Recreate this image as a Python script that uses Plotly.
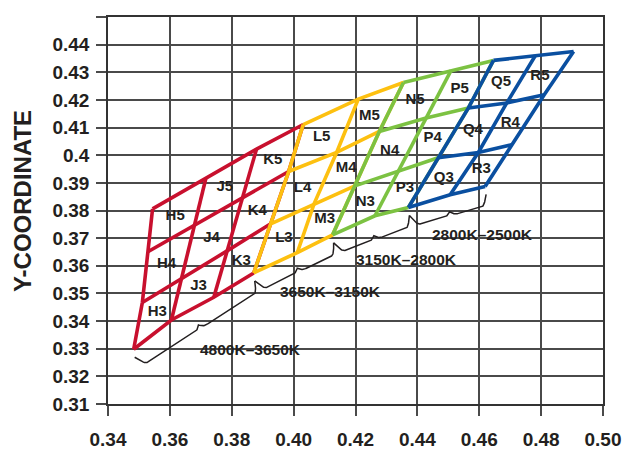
import math
import plotly.graph_objects as go

# ---------------- data ----------------
# Bin boundary lines, each with 4 vertices from the bottom boundary
# (bottom of row 3) to the top boundary (top of row 5).
boundary_x = [
    [0.3483, 0.3511, 0.3529, 0.3544],
    [0.3605, 0.3638, 0.3680, 0.3716],
    [0.3742, 0.3785, 0.3835, 0.3880],
    [0.3871, 0.3926, 0.3984, 0.4031],
    [0.4012, 0.4066, 0.4139, 0.4209],
    [0.4126, 0.4198, 0.4277, 0.4355],
    [0.4263, 0.4339, 0.4428, 0.4509],
    [0.4371, 0.4467, 0.4565, 0.4646],
    [0.4506, 0.4597, 0.4689, 0.4781],
    [0.4619, 0.4705, 0.4810, 0.4905],
]
boundary_y = [
    [0.3298, 0.3467, 0.3651, 0.3806],
    [0.3404, 0.3553, 0.3747, 0.3915],
    [0.3486, 0.3654, 0.3847, 0.4022],
    [0.3574, 0.3752, 0.3941, 0.4111],
    [0.3648, 0.3824, 0.4010, 0.4203],
    [0.3712, 0.3889, 0.4086, 0.4263],
    [0.3781, 0.3943, 0.4135, 0.4307],
    [0.3811, 0.3991, 0.4171, 0.4343],
    [0.3857, 0.4010, 0.4189, 0.4360],
    [0.3887, 0.4038, 0.4219, 0.4375],
]
bin_columns = ["H", "J", "K", "L", "M", "N", "P", "Q", "R"]
bin_rows = ["3", "4", "5"]

group_names = ["4800K\u20133650K", "3650K\u20133150K", "3150K\u20132800K", "2800K\u20132500K"]
group_first_boundary = [0, 3, 5, 7]
group_last_boundary = [3, 5, 7, 9]

x_ticks = [0.34, 0.36, 0.38, 0.40, 0.42, 0.44, 0.46, 0.48, 0.50]
x_tick_labels = ["0.34", "0.36", "0.38", "0.40", "0.42", "0.44", "0.46", "0.48", "0.50"]
y_ticks = [0.31, 0.32, 0.33, 0.34, 0.35, 0.36, 0.37, 0.38, 0.39, 0.40, 0.41, 0.42, 0.43, 0.44, 0.45]
y_tick_labels = ["0.31", "0.32", "0.33", "0.34", "0.35", "0.36", "0.37", "0.38", "0.39", "0.4",
                 "0.41", "0.42", "0.43", "0.44", "0.45"]

# ---------------- style ----------------
group_colors = ["#C8102E", "#FDC010", "#7CC242", "#0A4FA0"]
FONT = "Liberation Sans, Arial, Helvetica, sans-serif"
TXT = "#231F20"
# page body has an 8px margin, figure is sized so it ends at the window edge
W, H = 628, 444
ML, MR, MT, MB = 100, 33, 9, 48
X0, X1, Y0, Y1 = 0.34, 0.50, 0.31, 0.45
SX = (W - ML - MR) / (X1 - X0)
SY = (H - MT - MB) / (Y1 - Y0)

fig = go.Figure()

# grids
for g in range(4):
    a, b = group_first_boundary[g], group_last_boundary[g]
    xs, ys = [], []
    for r in range(4):
        for c in range(a, b + 1):
            xs.append(boundary_x[c][r]); ys.append(boundary_y[c][r])
        xs.append(None); ys.append(None)
    for c in range(a, b + 1):
        for r in range(4):
            xs.append(boundary_x[c][r]); ys.append(boundary_y[c][r])
        xs.append(None); ys.append(None)
    fig.add_trace(go.Scatter(x=xs, y=ys, mode="lines",
                             line=dict(color=group_colors[g], width=3.6),
                             hoverinfo="skip", showlegend=False))

# cell labels at cell centroids
lx, ly, lt = [], [], []
for c in range(len(bin_columns)):
    for r in range(len(bin_rows)):
        px = [boundary_x[c][r], boundary_x[c + 1][r], boundary_x[c + 1][r + 1], boundary_x[c][r + 1]]
        py = [boundary_y[c][r], boundary_y[c + 1][r], boundary_y[c + 1][r + 1], boundary_y[c][r + 1]]
        lx.append(sum(px) / 4); ly.append(sum(py) / 4)
        lt.append("<b>" + bin_columns[c] + bin_rows[r] + "</b>")
fig.add_trace(go.Scatter(x=lx, y=ly, mode="text", text=lt,
                         textfont=dict(family=FONT, size=15, color=TXT),
                         hoverinfo="skip", showlegend=False))


def brace(xa, ya, xb, yb, off=(1, 8), depth=11.0, spike=4.0, r_end=8.0, r_mid=7.0, n=240):
    """Curly brace below the segment a-b, built in pixel space."""
    ax, ay = xa * SX + off[0], -ya * SY + off[1]
    bx, by = xb * SX + off[0], -yb * SY + off[1]
    dx, dy = bx - ax, by - ay
    L = math.hypot(dx, dy)
    ux, uy = dx / L, dy / L
    nx, ny = -uy, ux
    xs, ys = [], []
    for i in range(n + 1):
        s = L * i / n
        t = min(s, L - s)
        h = depth * math.sin(0.5 * math.pi * min(t / r_end, 1.0))
        h -= spike * (1.0 - min((L / 2 - t) / r_mid, 1.0)) ** 2
        xs.append((ax + ux * s + nx * h) / SX)
        ys.append(-(ay + uy * s + ny * h) / SY)
    return xs, ys


annotations = []
for g in range(4):
    a, b = group_first_boundary[g], group_last_boundary[g]
    xa, ya = boundary_x[a][0], boundary_y[a][0]
    xb, yb = boundary_x[b][0], boundary_y[b][0]
    bxs, bys = brace(xa, ya, xb, yb)
    fig.add_trace(go.Scatter(x=bxs, y=bys, mode="lines", line=dict(color="#231F20", width=1.5),
                             hoverinfo="skip", showlegend=False))
    annotations.append(dict(x=xa + 0.97 * (xb - xa), y=(ya + yb) / 2, xref="x", yref="y",
                            text="<b>" + group_names[g] + "</b>",
                            showarrow=False, yshift=-38,
                            font=dict(family=FONT, size=15.5, color=TXT)))

annotations.append(dict(x=-0.1727, y=0.523, xref="paper", yref="paper", text="<b>Y-COORDINATE</b>",
                        textangle=-90, showarrow=False, xanchor="center", yanchor="middle",
                        font=dict(family=FONT, size=24, color=TXT)))

axis_common = dict(showgrid=True, gridcolor="#4a4a4a", gridwidth=1.5, zeroline=False,
                   ticks="outside", ticklen=10, tickwidth=1.5, tickcolor="#4a4a4a",
                   showline=True, linecolor="#333333", linewidth=1.5, mirror=True,
                   tickfont=dict(family=FONT, size=19, color=TXT))

fig.update_xaxes(range=[X0, X1], tickmode="array", tickvals=x_ticks, ticklabelstandoff=7,
                 ticktext=["<b>" + t + "</b>" for t in x_tick_labels], **axis_common)
fig.update_yaxes(range=[Y0, Y1], tickmode="array", tickvals=y_ticks, ticklabelstandoff=3,
                 ticktext=["<b>" + t + "</b>" for t in y_tick_labels], **axis_common)

fig.update_layout(width=W, height=H, margin=dict(l=ML, r=MR, t=MT, b=MB, autoexpand=False),
                  plot_bgcolor="white", paper_bgcolor="white", showlegend=False,
                  annotations=annotations)

fig.write_html("out.html")
